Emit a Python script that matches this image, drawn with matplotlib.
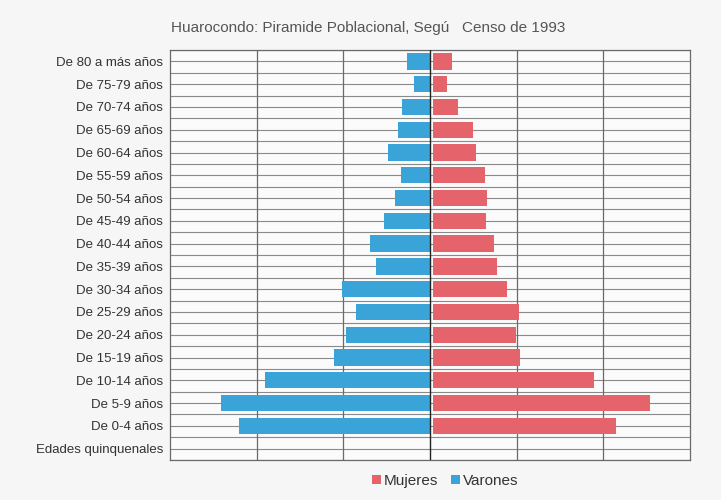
import matplotlib
matplotlib.use("Agg")
import matplotlib.pyplot as plt
import numpy as np

categories = ["De 80 a más años", "De 75-79 años", "De 70-74 años", "De 65-69 años",
              "De 60-64 años", "De 55-59 años", "De 50-54 años", "De 45-49 años",
              "De 40-44 años", "De 35-39 años", "De 30-34 años", "De 25-29 años",
              "De 20-24 años", "De 15-19 años", "De 10-14 años", "De 5-9 años",
              "De 0-4 años", "Edades quinquenales"]
varones = [0.26, 0.18, 0.32, 0.37, 0.48, 0.33, 0.40, 0.53, 0.69, 0.62, 1.01, 0.85,
           0.97, 1.11, 1.90, 2.41, 2.20, 0.0]
mujeres = [0.22, 0.17, 0.29, 0.47, 0.50, 0.61, 0.63, 0.62, 0.71, 0.74, 0.86, 1.00,
           0.96, 1.01, 1.86, 2.51, 2.12, 0.0]
title = "Huarocondo: Piramide Poblacional, Segú   Censo de 1993"

plt.rcParams['font.family'] = ['Liberation Sans', 'DejaVu Sans']

fig = plt.figure(figsize=(7.21, 5.0), dpi=100, facecolor='#f6f6f6')
ax = fig.add_axes([170/721, 1-460/500, (690-170)/721, (460-50)/500])
ax.set_facecolor('#fbfbfb')

y = np.arange(len(categories))
blue = '#3aa3d8'
red = '#e5636b'
ax.barh(y, [-v for v in varones], height=0.72, color=blue, zorder=3, label='Varones')
ax.barh(y, mujeres, left=0.03, height=0.72, color=red, zorder=3, label='Mujeres')

ax.set_xlim(-3, 3)
ax.set_ylim(len(categories) - 0.5, -0.5)

for g in np.arange(-0.5, len(categories), 0.5):
    ax.axhline(g, color='#8a8a8a', lw=0.8, zorder=1)
for gx in [-2, -1, 1, 2]:
    ax.axvline(gx, color='#6a6a6a', lw=0.9, zorder=2)
ax.axvline(0, color='#222222', lw=1.0, zorder=4)

ax.set_yticks(y)
ax.set_yticklabels(categories, fontsize=9.5, color='#333333')
ax.set_xticks([])
ax.tick_params(axis='y', length=0, pad=5)
for s in ax.spines.values():
    s.set_color('#6a6a6a')
    s.set_linewidth(0.9)

fig.text(368/721, 1-28/500, title, ha='center', va='center', fontsize=11, color='#555555')

h, l = ax.get_legend_handles_labels()
leg = fig.legend([h[1], h[0]], [l[1], l[0]], loc='center', bbox_to_anchor=(445/721, 1-481/500),
                 ncol=2, frameon=False, fontsize=11, handlelength=0.6, handleheight=0.6,
                 handletextpad=0.2, columnspacing=0.8)
for t in leg.get_texts():
    t.set_color('#333333')

fig.savefig("out.png", dpi=100, facecolor=fig.get_facecolor())
